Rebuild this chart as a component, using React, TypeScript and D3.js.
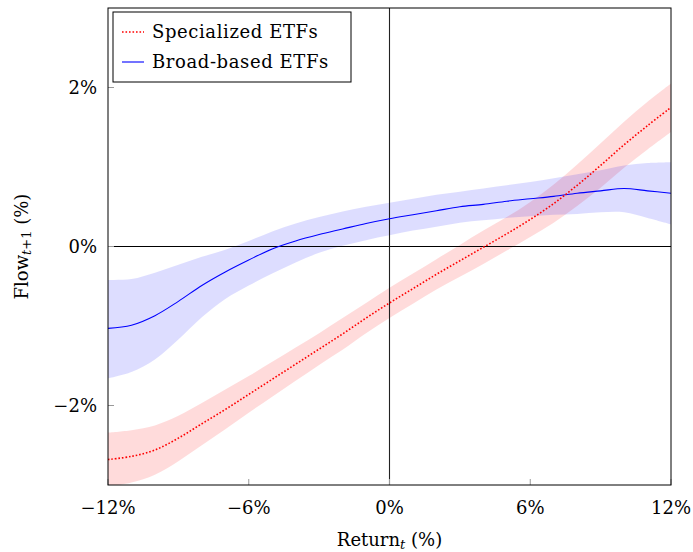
import { useRef, useEffect } from "react";
import * as d3 from "d3";

const returns = [-12, -11, -10, -9, -8, -7, -6, -5, -4, -3, -2, -1, 0, 1, 2, 3, 4, 5, 6, 7, 8, 9, 10, 11, 12];

const specMean = [-2.68, -2.64, -2.56, -2.41, -2.23, -2.05, -1.86, -1.67, -1.48, -1.29, -1.1, -0.9, -0.71, -0.53, -0.35, -0.18, -0.01, 0.16, 0.34, 0.54, 0.77, 1.02, 1.28, 1.52, 1.75];
const specUpper = [-2.34, -2.31, -2.25, -2.13, -1.97, -1.8, -1.63, -1.45, -1.27, -1.09, -0.9, -0.71, -0.52, -0.34, -0.16, 0.02, 0.2, 0.37, 0.56, 0.78, 1.03, 1.3, 1.57, 1.82, 2.05];
const specLower = [-3.02, -2.97, -2.87, -2.7, -2.5, -2.3, -2.09, -1.89, -1.69, -1.49, -1.3, -1.09, -0.9, -0.72, -0.54, -0.38, -0.22, -0.05, 0.12, 0.3, 0.51, 0.74, 0.99, 1.22, 1.44];

const broadMean = [-1.03, -0.99, -0.87, -0.69, -0.49, -0.32, -0.17, -0.03, 0.07, 0.15, 0.22, 0.29, 0.35, 0.4, 0.45, 0.5, 0.53, 0.57, 0.6, 0.63, 0.67, 0.7, 0.73, 0.7, 0.67];
const broadUpper = [-0.42, -0.41, -0.33, -0.23, -0.13, -0.04, 0.07, 0.19, 0.29, 0.37, 0.44, 0.5, 0.55, 0.6, 0.65, 0.69, 0.73, 0.77, 0.81, 0.86, 0.91, 0.96, 1.02, 1.05, 1.06];
const broadLower = [-1.66, -1.58, -1.42, -1.17, -0.89, -0.66, -0.49, -0.34, -0.2, -0.08, 0.01, 0.08, 0.14, 0.2, 0.25, 0.3, 0.33, 0.36, 0.38, 0.4, 0.41, 0.43, 0.43, 0.36, 0.28];

const xTicks = [-12, -6, 0, 6, 12];
const yTicks = [-2, 0, 2];

const FONT = "'DejaVu Serif', serif";
const FS = "18px";
const DOTS = "1.6,1.9";

const App = () => {
  const svgRef = useRef<SVGSVGElement>(null);

  useEffect(() => {
    const svg = d3.select(svgRef.current);
    svg.selectAll("*").remove();

    const width = 693;
    const height = 552;
    const margin = { left: 108, right: 22, top: 8, bottom: 67 };

    const x = d3.scaleLinear().domain([-12, 12]).range([margin.left, width - margin.right]);
    const y = d3.scaleLinear().domain([-3, 3]).range([height - margin.bottom, margin.top]);

    svg.append("defs")
      .append("clipPath")
      .attr("id", "plot-clip")
      .append("rect")
      .attr("x", x(-12))
      .attr("y", y(3))
      .attr("width", x(12) - x(-12))
      .attr("height", y(-3) - y(3));

    const plot = svg.append("g").attr("clip-path", "url(#plot-clip)");

    const band = (lo: number[], hi: number[]) =>
      d3.area<number>()
        .x((d) => x(d))
        .y0((_, i) => y(lo[i]))
        .y1((_, i) => y(hi[i]))
        .curve(d3.curveCatmullRom)(returns);

    const line = (vals: number[]) =>
      d3.line<number>()
        .x((d) => x(d))
        .y((_, i) => y(vals[i]))
        .curve(d3.curveCatmullRom)(returns);

    // confidence bands
    plot.append("path").attr("d", band(specLower, specUpper)).attr("fill", "rgba(255,0,0,0.14)");
    plot.append("path").attr("d", band(broadLower, broadUpper)).attr("fill", "rgba(0,0,255,0.135)");

    // zero lines
    plot.append("line")
      .attr("x1", x(-12)).attr("x2", x(12))
      .attr("y1", y(0)).attr("y2", y(0))
      .attr("stroke", "#000").attr("stroke-width", 1);
    plot.append("line")
      .attr("x1", x(0)).attr("x2", x(0))
      .attr("y1", y(3)).attr("y2", y(-3))
      .attr("stroke", "#222").attr("stroke-width", 1.1);

    // lines
    plot.append("path").attr("d", line(broadMean))
      .attr("fill", "none").attr("stroke", "#0000ff").attr("stroke-width", 1.1);
    plot.append("path").attr("d", line(specMean))
      .attr("fill", "none").attr("stroke", "#ff0000").attr("stroke-width", 1.6)
      .attr("stroke-dasharray", DOTS);

    // ticks (inside)
    const tickLen = 6;
    svg.append("g").selectAll("line").data(xTicks).enter().append("line")
      .attr("x1", (d) => x(d)).attr("x2", (d) => x(d))
      .attr("y1", y(-3)).attr("y2", y(-3) - tickLen)
      .attr("stroke", "#999").attr("stroke-width", 1);
    svg.append("g").selectAll("line").data(yTicks).enter().append("line")
      .attr("x1", x(-12)).attr("x2", x(-12) + tickLen)
      .attr("y1", (d) => y(d)).attr("y2", (d) => y(d))
      .attr("stroke", "#999").attr("stroke-width", 1);

    // frame
    svg.append("rect")
      .attr("x", x(-12)).attr("y", y(3))
      .attr("width", x(12) - x(-12)).attr("height", y(-3) - y(3))
      .attr("fill", "none").attr("stroke", "#000").attr("stroke-width", 1);

    const fmt = (d: number) => (d < 0 ? "\u2212" + Math.abs(d) : String(d)) + "%";

    // tick labels
    svg.append("g").selectAll("text").data(xTicks).enter().append("text")
      .attr("x", (d) => x(d)).attr("y", y(-3) + 23).attr("dy", "0.35em")
      .attr("text-anchor", "middle")
      .style("font-family", FONT).style("font-size", FS)
      .text(fmt);
    svg.append("g").selectAll("text").data(yTicks).enter().append("text")
      .attr("x", x(-12) - 11).attr("y", (d) => y(d)).attr("dy", "0.35em")
      .attr("text-anchor", "end")
      .style("font-family", FONT).style("font-size", FS)
      .text(fmt);

    // axis titles
    const xt = svg.append("text")
      .attr("x", x(0)).attr("y", 546)
      .attr("text-anchor", "middle")
      .style("font-family", FONT).style("font-size", FS);
    xt.append("tspan").text("Return");
    xt.append("tspan").attr("dy", 3).style("font-size", "13px").style("font-style", "italic").text("t");
    xt.append("tspan").attr("dy", -3).text(" (%)");

    const yt = svg.append("text")
      .attr("transform", `translate(28,${y(0)}) rotate(-90)`)
      .attr("text-anchor", "middle")
      .style("font-family", FONT).style("font-size", FS);
    yt.append("tspan").text("Flow");
    yt.append("tspan").attr("dy", 3).style("font-size", "13px").style("font-style", "italic").text("t");
    yt.append("tspan").style("font-size", "13px").text("+1");
    yt.append("tspan").attr("dy", -3).text(" (%)");

    // legend
    const legend = svg.append("g").attr("transform", "translate(113,12)");
    legend.append("rect")
      .attr("width", 238).attr("height", 70)
      .attr("fill", "#fff").attr("stroke", "#000").attr("stroke-width", 1);
    const entries = [
      { name: "Specialized ETFs", color: "#ff0000", dash: DOTS, w: 1.6 },
      { name: "Broad-based ETFs", color: "#0000ff", dash: null, w: 1.1 },
    ];
    entries.forEach((e, i) => {
      const cy = 20 + i * 30;
      legend.append("line")
        .attr("x1", 9).attr("x2", 31).attr("y1", cy).attr("y2", cy)
        .attr("stroke", e.color).attr("stroke-width", e.w)
        .attr("stroke-dasharray", e.dash);
      legend.append("text")
        .attr("x", 39).attr("y", cy).attr("dy", "0.35em")
        .style("font-family", FONT).style("font-size", FS)
        .style("letter-spacing", "0.6px")
        .text(e.name);
    });
  }, []);

  return (
    <svg
      ref={svgRef}
      width={693}
      height={552}
      style={{ position: "absolute", left: 0, top: 0, background: "#fff" }}
    />
  );
};

export default App;
